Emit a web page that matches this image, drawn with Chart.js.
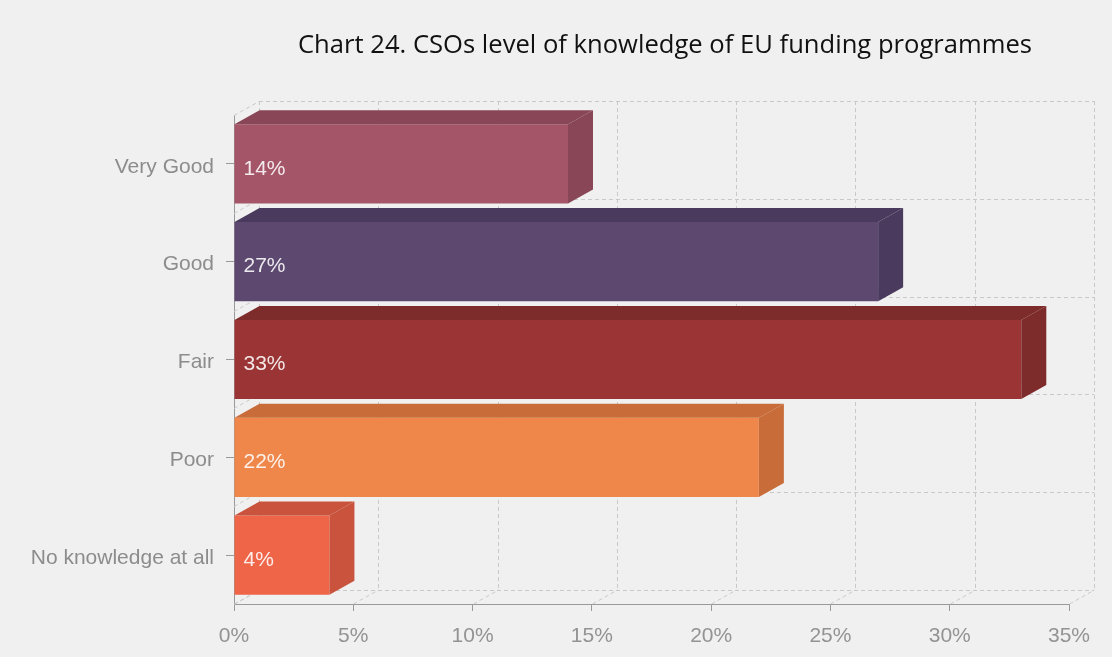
<!DOCTYPE html>
<html>
<head>
<meta charset="utf-8">
<title>CSOs level of knowledge of EU funding programmes</title>
<script src="https://cdn.jsdelivr.net/npm/chart.js@4"></script>
<style>
  html, body { margin: 0; padding: 0; background: #f0f0f0; }
  #wrap { width: 1112px; height: 657px; position: relative; }
</style>
</head>
<body>
<div id="wrap"><canvas id="myChart"></canvas></div>
<script>
const categories = ['Very Good', 'Good', 'Fair', 'Poor', 'No knowledge at all'];
const shares = [14, 27, 33, 22, 4];
const axisMax = 35;
const axisStep = 5;
const chartTitle = 'Chart 24. CSOs level of knowledge of EU funding programmes';

// front face / top+side face of each bar
const faceColors = ['#a45568', '#5d4970', '#9b3535', '#ef874b', '#ee6548'];
const depthColors = ['#884656', '#4a3a5d', '#7e2b2b', '#c86d3a', '#c9533c'];

// 3d offset of the back wall
const DX = 25, DY = -14;
const gridColor = '#c9c9c9';
const axisColor = '#999999';

function dashedLine(ctx, x1, y1, x2, y2) {
  ctx.beginPath();
  ctx.moveTo(x1, y1);
  ctx.lineTo(x2, y2);
  ctx.stroke();
}

const backWall = {
  id: 'backWall',
  beforeDatasetsDraw(chart) {
    const { ctx, chartArea: a, scales: { x, y } } = chart;
    ctx.save();
    ctx.strokeStyle = gridColor;
    ctx.lineWidth = 1;
    ctx.setLineDash([4, 3]);
    // vertical lines on the back wall + floor diagonals
    x.ticks.forEach(t => {
      const px = Math.round(x.getPixelForValue(t.value)) + 0.5;
      dashedLine(ctx, px + DX, a.top + DY, px + DX, a.bottom + DY);
      dashedLine(ctx, px, a.bottom, px + DX, a.bottom + DY);
    });
    // horizontal lines between categories + left wall diagonals
    for (let i = 0; i <= categories.length; i++) {
      const py = Math.round(y.getPixelForValue(i - 0.5)) + 0.5;
      dashedLine(ctx, a.left + DX, py + DY, a.right + DX, py + DY);
      dashedLine(ctx, a.left, py, a.left + DX, py + DY);
    }
    ctx.restore();
  }
};

const barDepth = {
  id: 'barDepth',
  afterDatasetsDraw(chart) {
    const { ctx } = chart;
    const meta = chart.getDatasetMeta(0);
    ctx.save();
    meta.data.forEach((bar, i) => {
      const { x, y, base, height } = bar.getProps(['x', 'y', 'base', 'height'], true);
      const top = y - height / 2, bottom = y + height / 2;
      ctx.fillStyle = depthColors[i];
      // top face
      ctx.beginPath();
      ctx.moveTo(base, top);
      ctx.lineTo(base + DX, top + DY);
      ctx.lineTo(x + DX, top + DY);
      ctx.lineTo(x, top);
      ctx.closePath();
      ctx.fill();
      // side face
      ctx.beginPath();
      ctx.moveTo(x, top);
      ctx.lineTo(x + DX, top + DY);
      ctx.lineTo(x + DX, bottom + DY);
      ctx.lineTo(x, bottom);
      ctx.closePath();
      ctx.fill();
      // value label
      ctx.fillStyle = 'rgba(255,255,255,0.88)';
      ctx.font = '21px "Liberation Sans", Arial, sans-serif';
      ctx.textAlign = 'left';
      ctx.textBaseline = 'middle';
      ctx.fillText(shares[i] + '%', base + 9, y + 5);
    });
    ctx.restore();
  }
};

const titleText = {
  id: 'titleText',
  afterDraw(chart) {
    const { ctx } = chart;
    ctx.save();
    ctx.fillStyle = '#111111';
    ctx.font = '25.6px "Open Sans", sans-serif';
    ctx.textAlign = 'left';
    ctx.textBaseline = 'alphabetic';
    ctx.fillText(chartTitle, 298, 53);
    ctx.restore();
  }
};

const ctx = document.getElementById('myChart');

new Chart(ctx, {
  type: 'bar',
  data: {
    labels: categories,
    datasets: [{
      data: shares,
      backgroundColor: faceColors,
      borderWidth: 0,
      barPercentage: 0.81,
      categoryPercentage: 1
    }]
  },
  options: {
    indexAxis: 'y',
    responsive: true,
    maintainAspectRatio: false,
    animation: false,
    layout: { padding: { top: 115, right: 43, bottom: 0, left: 0 } },
    plugins: {
      legend: { display: false },
      tooltip: { enabled: false }
    },
    scales: {
      x: {
        min: 0,
        max: axisMax,
        afterFit: s => { s.height = 53; },
        ticks: {
          stepSize: axisStep,
          color: '#939393',
          padding: 13,
          font: { family: '"Liberation Sans", Arial, sans-serif', size: 21 },
          callback: v => v + '%'
        },
        grid: { drawOnChartArea: false, tickLength: 7, color: axisColor },
        border: { color: axisColor, width: 1 }
      },
      y: {
        afterFit: s => { s.width = 234; },
        ticks: {
          color: '#8c8c8c',
          padding: 12,
          labelOffset: 3,
          font: { family: '"Liberation Sans", Arial, sans-serif', size: 21 }
        },
        grid: { offset: false, drawOnChartArea: false, tickLength: 8, color: axisColor },
        border: { color: axisColor, width: 1 }
      }
    }
  },
  plugins: [backWall, barDepth, titleText]
});
</script>
</body>
</html>
